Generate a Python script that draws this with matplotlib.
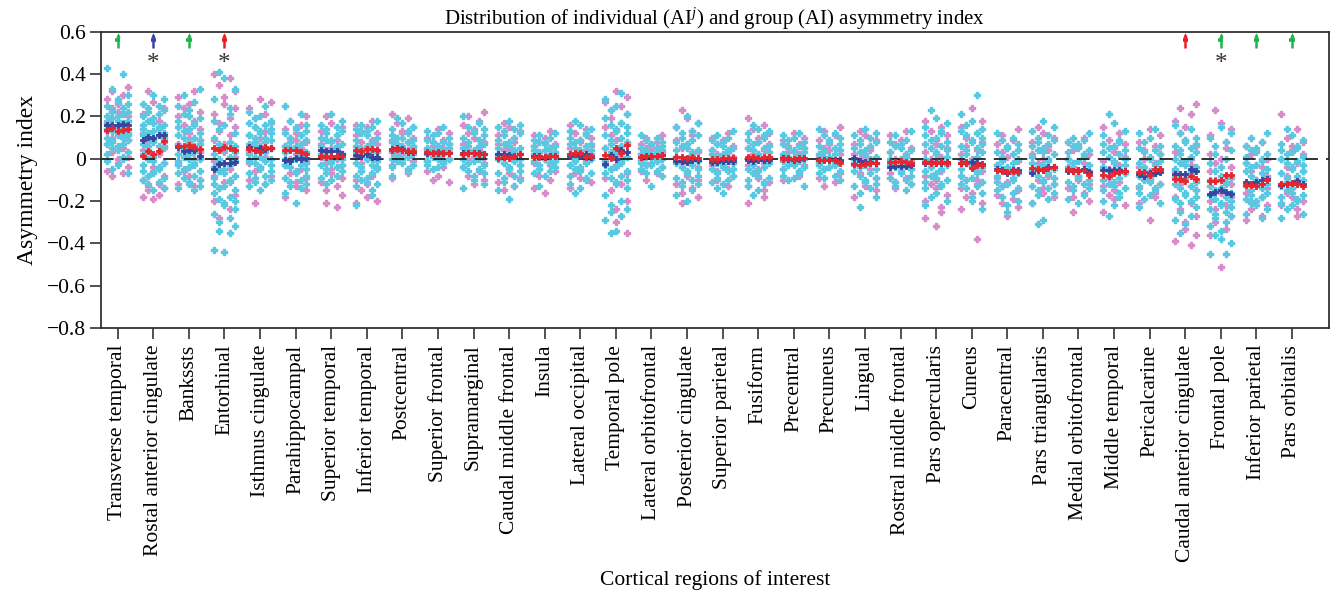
import matplotlib
matplotlib.use("Agg")
import matplotlib.pyplot as plt
import numpy as np

# ---------------- data ----------------
categories = ["Transverse temporal", "Rostal anterior cingulate", "Bankssts", "Entorhinal",
              "Isthmus cingulate", "Parahippocampal", "Superior temporal", "Inferior temporal",
              "Postcentral", "Superior frontal", "Supramarginal", "Caudal middle frontal",
              "Insula", "Lateral occipital", "Temporal pole", "Lateral orbitofrontal",
              "Posterior cingulate", "Superior parietal", "Fusiform", "Precentral",
              "Precuneus", "Lingual", "Rostral middle frontal", "Pars opercularis", "Cuneus",
              "Paracentral", "Pars triangularis", "Medial orbitofrontal", "Middle temporal",
              "Pericalcarine", "Caudal anterior cingulate", "Frontal pole", "Inferior parietal",
              "Pars orbitalis"]

# individual AI values (x100), cyan group
cyan_values = [
    "43 40 33 30 28 27 26 25 24 23 22 22 21 20 20 19 18 18 17 17 16 16 15 15 14 14 13 13 12 12 11 11 10 10 9 9 8 7 7 6 5 4 3 2 1 0 -1 -3 -5 -7",
    "30 28 26 25 24 23 22 21 20 19 18 17 16 16 15 14 14 13 12 12 11 11 10 10 9 8 8 7 6 6 5 4 3 2 1 0 -1 -2 -3 -4 -5 -6 -7 -8 -9 -10 -11 -12 -14 -15",
    "33 30 27 25 23 21 20 19 18 17 16 15 14 13 12 11 10 10 9 8 8 7 6 6 5 4 4 3 2 2 1 0 0 -1 -2 -3 -3 -4 -5 -6 -7 -8 -9 -10 -11 -12 -13 -14 -15",
    "41 38 33 28 24 21 18 16 14 12 10 8 7 6 5 4 3 2 1 0 -1 -2 -3 -4 -5 -6 -7 -8 -9 -10 -11 -12 -13 -14 -15 -16 -18 -19 -20 -21 -22 -24 -26 -28 -30 -32 -34 -35 -43 -44",
    "25 22 20 19 18 17 16 15 14 13 12 12 11 10 10 9 8 8 7 6 6 5 5 4 3 3 2 1 1 0 -1 -1 -2 -3 -4 -5 -6 -7 -8 -9 -10 -11 -12 -13 -15",
    "25 21 18 16 15 14 13 12 11 10 9 8 7 6 6 5 4 3 3 2 1 0 0 -1 -2 -3 -3 -4 -5 -6 -7 -8 -9 -10 -11 -12 -13 -14 -16 -21",
    "21 18 16 15 14 13 12 11 10 9 9 8 7 6 6 5 4 4 3 2 2 1 0 0 -1 -2 -3 -3 -4 -5 -6 -7 -8 -9 -10 -12",
    "18 16 15 14 13 12 11 10 9 8 7 6 6 5 4 3 3 2 1 0 0 -1 -2 -3 -4 -5 -6 -7 -8 -9 -10 -11 -12 -13 -15 -17 -22",
    "19 17 15 14 13 12 11 10 10 9 8 8 7 6 6 5 5 4 3 3 2 2 1 0 0 -1 -2 -3 -4 -5 -6 -8",
    "15 13 12 11 10 9 8 8 7 6 6 5 5 4 4 3 3 2 2 1 1 0 0 -1 -1 -2 -3 -4 -5",
    "20 17 15 14 13 12 11 10 9 8 7 6 6 5 4 4 3 2 2 1 0 0 -1 -2 -3 -4 -5 -6 -7 -8 -10 -12 -14",
    "18 16 15 14 13 12 11 10 9 8 7 6 5 5 4 3 2 2 1 0 0 -1 -2 -3 -4 -5 -6 -7 -8 -9 -10 -11 -13 -15 -19",
    "12 11 10 9 8 8 7 6 6 5 5 4 4 3 3 2 2 1 1 0 0 -1 -1 -2 -3 -4 -5 -6 -7 -8 -13",
    "18 16 14 13 12 11 10 9 8 7 7 6 5 4 4 3 2 2 1 0 0 -1 -2 -3 -4 -5 -6 -7 -8 -9 -10 -12 -14 -16",
    "31 28 25 23 21 19 17 16 15 14 13 12 11 10 9 8 7 6 5 4 3 2 1 0 -1 -2 -3 -4 -5 -6 -7 -8 -9 -10 -11 -12 -14 -17 -20 -22 -24 -25 -27 -29 -34 -35",
    "11 10 9 8 7 7 6 5 5 4 4 3 3 2 2 1 1 0 0 -1 -1 -2 -3 -3 -4 -5 -6 -7 -8 -13",
    "20 17 15 13 12 11 10 9 8 7 6 5 4 4 3 2 1 0 0 -1 -2 -3 -4 -5 -6 -7 -8 -9 -10 -11 -12 -13 -15 -17 -20",
    "13 11 10 9 8 7 6 5 4 4 3 2 2 1 0 0 -1 -2 -2 -3 -4 -5 -5 -6 -7 -8 -9 -10 -11 -12 -14 -16",
    "16 14 13 12 11 10 9 8 7 6 5 5 4 3 2 2 1 0 0 -1 -2 -3 -4 -5 -6 -7 -8 -9 -10 -11 -12 -13 -15 -17",
    "12 11 10 9 8 7 6 5 5 4 3 3 2 1 1 0 0 -1 -1 -2 -3 -3 -4 -5 -6 -7 -8 -9 -10 -13",
    "14 12 11 10 9 8 7 6 5 4 4 3 2 2 1 0 0 -1 -1 -2 -3 -3 -4 -5 -6 -7 -8 -9 -10",
    "14 12 11 10 9 8 7 6 5 4 3 2 1 0 0 -1 -2 -3 -4 -5 -6 -7 -8 -9 -10 -11 -12 -13 -14 -16 -18 -23",
    "13 11 9 8 7 6 5 4 3 2 1 0 0 -1 -2 -3 -3 -4 -5 -6 -7 -8 -9 -10 -11 -12 -13 -15",
    "23 19 17 15 13 12 11 10 9 8 7 6 5 4 3 2 1 0 -1 -2 -3 -4 -5 -6 -7 -8 -9 -10 -11 -12 -13 -14 -16 -18 -20 -22",
    "30 21 18 16 14 13 12 11 10 9 8 7 6 5 4 3 2 1 0 -1 -2 -3 -4 -5 -6 -7 -8 -9 -10 -11 -12 -13 -14 -16 -18 -20 -24",
    "12 10 9 7 6 5 4 3 2 1 0 -1 -2 -3 -4 -5 -6 -7 -8 -9 -10 -11 -12 -13 -14 -15 -16 -18 -20 -22 -25",
    "18 15 13 11 10 9 8 7 6 5 4 3 2 1 0 -1 -2 -3 -4 -5 -6 -7 -8 -9 -10 -11 -12 -13 -14 -15 -16 -17 -19 -21 -29 -31",
    "12 10 9 8 7 6 5 4 3 2 1 0 -1 -2 -3 -4 -5 -6 -7 -8 -9 -10 -11 -12 -13 -14 -15 -17 -19 -21",
    "21 17 13 11 9 8 7 6 5 4 3 2 1 0 -1 -2 -3 -4 -5 -6 -7 -8 -9 -10 -11 -12 -13 -14 -15 -16 -18 -20 -22 -27",
    "14 12 10 8 6 5 4 3 2 1 0 -1 -2 -3 -4 -5 -6 -7 -8 -9 -10 -11 -12 -13 -14 -15 -16 -17 -19 -21 -23",
    "16 14 12 10 9 8 7 6 5 4 3 2 1 0 -1 -2 -3 -4 -5 -6 -7 -8 -9 -10 -11 -12 -13 -14 -15 -16 -17 -18 -19 -20 -21 -23 -25 -27 -29 -31 -35",
    "15 12 10 8 6 4 2 0 -2 -4 -6 -8 -9 -10 -11 -12 -13 -14 -15 -16 -17 -18 -19 -20 -21 -22 -23 -24 -25 -26 -27 -28 -30 -32 -34 -36 -38 -40 -45 -45",
    "12 10 8 6 5 4 3 2 1 0 -1 -2 -3 -4 -5 -6 -7 -8 -9 -10 -11 -12 -13 -14 -15 -16 -17 -18 -19 -20 -21 -22 -24 -26 -28",
    "14 11 9 7 6 5 4 3 2 1 0 -1 -2 -3 -4 -5 -6 -7 -8 -9 -10 -11 -12 -13 -14 -15 -16 -17 -18 -19 -20 -21 -22 -24 -26 -28",
]

# individual AI values (x100), pink group
pink_values = [
    "34 32 30 28 26 24 22 20 18 16 15 13 12 10 9 7 5 3 1 0 -2 -4 -6 -7 -8",
    "32 27 24 21 18 15 12 10 8 6 4 2 0 -2 -4 -6 -8 -10 -12 -13 -14 -15 -17 -18 -19",
    "32 29 26 24 22 20 18 16 14 12 10 9 7 5 4 3 1 0 -2 -4 -6 -8 -10 -12 -13",
    "40 38 35 32 29 26 24 21 19 17 15 13 11 9 7 5 3 1 -1 -3 -5 -8 -11 -14 -17 -20 -24 -28",
    "28 27 24 21 19 17 15 13 11 10 8 6 5 3 1 0 -2 -4 -6 -8 -10 -12 -21",
    "20 18 16 14 12 10 9 8 6 5 4 3 2 0 -1 -3 -5 -7 -9 -11 -13 -15 -18",
    "20 17 15 13 11 9 7 5 4 2 1 0 -2 -3 -5 -7 -9 -11 -13 -15 -17 -21 -23",
    "18 16 15 13 12 11 9 8 7 5 4 3 1 0 -2 -4 -6 -8 -10 -12 -15 -18 -20 -21",
    "21 19 17 15 13 12 10 9 8 7 6 5 4 3 2 1 0 -1 -3 -5 -7 -9",
    "14 12 10 9 8 7 6 5 4 3 2 1 0 -1 -2 -4 -6 -8 -10 -11",
    "22 20 18 16 14 12 10 8 7 5 4 2 1 0 -2 -4 -6 -8 -10 -12",
    "17 15 13 11 10 8 7 5 4 2 1 0 -2 -3 -5 -7 -9 -11 -13 -15",
    "13 11 10 8 7 6 5 3 2 1 0 -1 -2 -3 -5 -6 -8 -10 -14 -16",
    "16 14 12 10 9 8 6 5 4 2 1 0 -1 -3 -5 -7 -9 -11 -14",
    "32 29 27 25 23 21 19 17 15 13 11 9 7 5 3 1 -1 -3 -5 -7 -9 -12 -15 -20 -24 -30 -35",
    "11 10 8 7 6 5 4 3 2 1 0 -1 -2 -3 -4 -6 -7 -10",
    "23 19 17 15 13 11 9 7 5 3 1 0 -2 -4 -6 -8 -10 -12 -14 -16 -18 -21",
    "12 10 9 7 6 4 3 2 1 0 -1 -2 -3 -5 -6 -8 -10 -13",
    "19 16 14 12 10 8 7 5 4 2 1 0 -2 -3 -5 -7 -9 -11 -13 -15 -18 -21",
    "12 10 9 7 6 5 3 2 1 0 -1 -2 -3 -5 -6 -8 -10",
    "15 13 11 9 7 5 4 2 1 0 -1 -2 -4 -5 -7 -9 -11 -13",
    "13 11 9 7 5 4 2 1 0 -2 -3 -5 -7 -9 -11 -13 -15 -18",
    "13 11 9 7 5 3 2 0 -1 -2 -4 -5 -7 -9 -11 -12 -14",
    "18 15 13 11 9 7 5 3 1 0 -2 -4 -6 -8 -10 -12 -14 -17 -20 -23 -25 -28 -32",
    "24 18 15 12 10 8 6 4 2 0 -2 -4 -6 -8 -10 -12 -14 -16 -18 -21 -24 -38",
    "14 11 9 7 5 3 1 -1 -3 -5 -7 -9 -11 -13 -15 -17 -19 -21 -23 -27",
    "15 12 10 8 6 4 2 0 -2 -4 -6 -8 -10 -12 -14 -16 -18 -21",
    "10 8 6 4 2 0 -2 -4 -6 -8 -10 -12 -14 -16 -18 -20 -25",
    "15 12 9 7 5 3 1 -1 -3 -5 -7 -9 -11 -13 -15 -17 -19 -22 -25",
    "14 11 8 6 4 2 0 -2 -4 -6 -8 -10 -12 -14 -16 -18 -21 -29",
    "26 24 21 18 15 12 9 6 3 0 -3 -6 -9 -12 -15 -18 -21 -24 -27 -30 -33 -36 -39 -41",
    "23 17 14 11 8 5 2 0 -2 -4 -6 -8 -10 -12 -14 -16 -18 -20 -22 -24 -27 -30 -33 -36 -51",
    "8 6 4 2 0 -2 -4 -6 -8 -10 -12 -14 -16 -18 -20 -22 -24 -27 -29",
    "21 14 10 8 6 4 2 0 -2 -4 -6 -8 -10 -12 -14 -16 -18 -20 -22 -24 -27",
]

# group AI (5 per region), blue and red
blue_means = [
    [0.158, 0.158, 0.160, 0.162, 0.160], [0.088, 0.103, 0.100, 0.114, 0.114],
    [0.053, 0.035, 0.040, 0.040, 0.013], [-0.051, -0.026, -0.020, -0.020, -0.018],
    [0.053, 0.043, 0.051, 0.048, 0.050], [-0.004, -0.010, 0.002, 0.000, 0.001],
    [0.039, 0.037, 0.035, 0.037, 0.020], [0.017, 0.012, 0.020, 0.010, 0.006],
    [0.044, 0.050, 0.048, 0.033, 0.033], [0.028, 0.027, 0.028, 0.027, 0.025],
    [0.027, 0.027, 0.025, 0.027, 0.022], [0.020, 0.020, 0.018, 0.014, 0.020],
    [0.012, 0.012, 0.010, 0.012, 0.012], [0.015, 0.020, 0.012, 0.020, 0.010],
    [-0.026, 0.018, 0.000, 0.043, 0.032], [0.010, 0.012, 0.012, 0.014, 0.016],
    [-0.012, -0.010, -0.014, -0.008, -0.008], [-0.018, -0.014, -0.012, -0.012, -0.012],
    [-0.005, -0.010, -0.008, -0.005, -0.008], [0.002, 0.000, -0.004, 0.000, 0.001],
    [-0.004, -0.006, -0.008, -0.004, -0.008], [0.005, -0.012, -0.015, -0.018, -0.020],
    [-0.038, -0.036, -0.036, -0.035, -0.032], [-0.020, -0.018, -0.020, -0.022, -0.018],
    [-0.020, -0.015, -0.015, -0.020, -0.025], [-0.050, -0.052, -0.070, -0.052, -0.052],
    [-0.068, -0.055, -0.055, -0.040, -0.040], [-0.058, -0.060, -0.055, -0.050, -0.065],
    [-0.055, -0.055, -0.055, -0.052, -0.058], [-0.073, -0.083, -0.068, -0.067, -0.062],
    [-0.073, -0.073, -0.073, -0.047, -0.060], [-0.165, -0.157, -0.146, -0.157, -0.165],
    [-0.110, -0.118, -0.110, -0.102, -0.097], [-0.126, -0.118, -0.115, -0.107, -0.118],
]
red_means = [
    [0.136, 0.147, 0.130, 0.136, 0.141], [0.013, 0.037, 0.021, 0.035, 0.083],
    [0.061, 0.062, 0.064, 0.056, 0.045], [0.051, 0.039, 0.056, 0.051, 0.043],
    [0.045, 0.040, 0.032, 0.056, 0.050], [0.043, 0.040, 0.039, 0.031, 0.024],
    [0.011, 0.008, 0.011, 0.011, 0.014], [0.040, 0.035, 0.045, 0.045, 0.040],
    [0.040, 0.045, 0.043, 0.035, 0.035], [0.030, 0.028, 0.030, 0.027, 0.028],
    [0.022, 0.027, 0.025, 0.022, 0.020], [0.005, 0.009, 0.004, 0.012, 0.020],
    [0.008, 0.010, 0.006, 0.012, 0.012], [0.020, 0.028, 0.028, 0.010, 0.012],
    [0.017, 0.005, 0.051, 0.028, 0.064], [0.010, 0.015, 0.012, 0.012, 0.016],
    [0.010, 0.006, 0.004, 0.006, 0.005], [0.000, 0.000, 0.003, 0.004, 0.002],
    [0.007, 0.010, 0.005, 0.009, 0.009], [0.000, 0.003, 0.000, 0.004, 0.002],
    [-0.006, -0.008, -0.008, -0.004, -0.020], [-0.025, -0.028, -0.025, -0.022, -0.020],
    [-0.015, -0.016, -0.012, -0.018, -0.020], [-0.018, -0.020, -0.022, -0.018, -0.020],
    [-0.020, -0.020, -0.045, -0.030, -0.030], [-0.055, -0.058, -0.062, -0.060, -0.062],
    [-0.045, -0.050, -0.052, -0.045, -0.040], [-0.050, -0.058, -0.060, -0.055, -0.075],
    [-0.075, -0.080, -0.067, -0.065, -0.060], [-0.062, -0.062, -0.078, -0.047, -0.047],
    [-0.097, -0.097, -0.105, -0.081, -0.097], [-0.107, -0.107, -0.100, -0.078, -0.078],
    [-0.126, -0.126, -0.130, -0.121, -0.102], [-0.121, -0.121, -0.115, -0.121, -0.130],
]

arrow_regions = [0, 1, 2, 3, 30, 31, 32, 33]
arrow_colors = ["#22b24c", "#3a44a8", "#22b24c", "#ed1c24", "#ed1c24", "#22b24c", "#22b24c", "#22b24c"]
star_regions = [1, 3, 31]

yticks = [0.6, 0.4, 0.2, 0, -0.2, -0.4, -0.6, -0.8]

# ---------------- style ----------------
plt.rcParams["font.family"] = ["Liberation Serif", "DejaVu Serif"]
plt.rcParams["mathtext.fontset"] = "custom"
plt.rcParams["mathtext.rm"] = "Liberation Serif"
plt.rcParams["mathtext.it"] = "Liberation Serif:italic"

CYAN = "#5bc8e2"
PINK = "#d68dc9"
RED = "#e8252c"
BLUE = "#35449e"

fig = plt.figure(figsize=(13.32, 5.97), dpi=100)
ax = fig.add_axes([0.0758, 0.4506, 0.9219, 0.4963])

sub_offsets = np.array([-0.3, -0.15, 0.0, 0.15, 0.3])
# column order used for successive rows of five points (layout only)
row_orders = np.array([[0, 3, 1, 4, 2], [2, 4, 0, 3, 1], [4, 1, 3, 0, 2],
                       [1, 2, 4, 0, 3], [3, 0, 2, 1, 4]])

def place(vals, start):
    v = np.sort(np.array([float(t) for t in vals.split()]) / 100.0)[::-1]
    k = np.arange(len(v))
    col = row_orders[(k // 5 + start) % 5, k % 5]
    return sub_offsets[col], v

xs_p, ys_p, xs_c, ys_c = [], [], [], []
for i in range(len(categories)):
    dx, v = place(pink_values[i], 2 + i)
    xs_p.append(i + dx); ys_p.append(v)
    dx, v = place(cyan_values[i], i)
    xs_c.append(i + dx); ys_c.append(v)

ax.scatter(np.concatenate(xs_p), np.concatenate(ys_p), s=24, marker="P",
           color=PINK, edgecolors=PINK, linewidths=1.0, zorder=2)
ax.scatter(np.concatenate(xs_c), np.concatenate(ys_c), s=24, marker="P",
           color=CYAN, edgecolors=CYAN, linewidths=1.0, zorder=3)

ax.axhline(0, color="#222222", lw=1.3, ls=(0, (7, 4.5)), zorder=4)

bx = np.concatenate([i + sub_offsets for i in range(len(categories))])
ax.scatter(bx, np.concatenate(blue_means), s=22, marker="P", color=BLUE,
           edgecolors=BLUE, linewidths=0.6, zorder=5)
ax.scatter(bx, np.concatenate(red_means), s=22, marker="P", color=RED,
           edgecolors=RED, linewidths=0.6, zorder=6)

for r, c in zip(arrow_regions, arrow_colors):
    ax.plot([r, r], [0.522, 0.586], color=c, lw=1.8, solid_capstyle="butt", zorder=7)
    ax.plot([r - 0.075, r + 0.075], [0.561, 0.561], color=c, lw=2.6,
            solid_capstyle="butt", zorder=7)
    ax.plot([r], [0.586], marker="^", ms=3.2, color=c, mew=0, zorder=7)

for r in star_regions:
    ax.text(r, 0.448, "*", ha="center", va="center", fontsize=18, color="#333333")

ax.set_xlim(-0.47, 34.04)
ax.set_ylim(-0.8, 0.6)
ax.set_yticks(yticks)
ax.set_yticklabels(["0" if t == 0 else f"{t:.1f}".replace("-", "\u2212") for t in yticks])
ax.set_xticks(range(len(categories)))
ax.set_xticklabels(categories, rotation=90)
ax.tick_params(axis="both", direction="out", length=8, width=1.2, labelsize=15.5, color="#333333")
ax.tick_params(axis="y", pad=3)
ax.tick_params(axis="x", pad=4)
for sp in ax.spines.values():
    sp.set_linewidth(1.3)
    sp.set_color("#333333")

ax.set_ylabel("Asymmetry index", fontsize=17, labelpad=6)
ax.set_xlabel("Cortical regions of interest", fontsize=15.5, labelpad=6)
ax.set_title("Distribution of individual (AI$^{j}$) and group (AI) asymmetry index",
             fontsize=15, pad=4)

fig.savefig("out.png", dpi=100)
